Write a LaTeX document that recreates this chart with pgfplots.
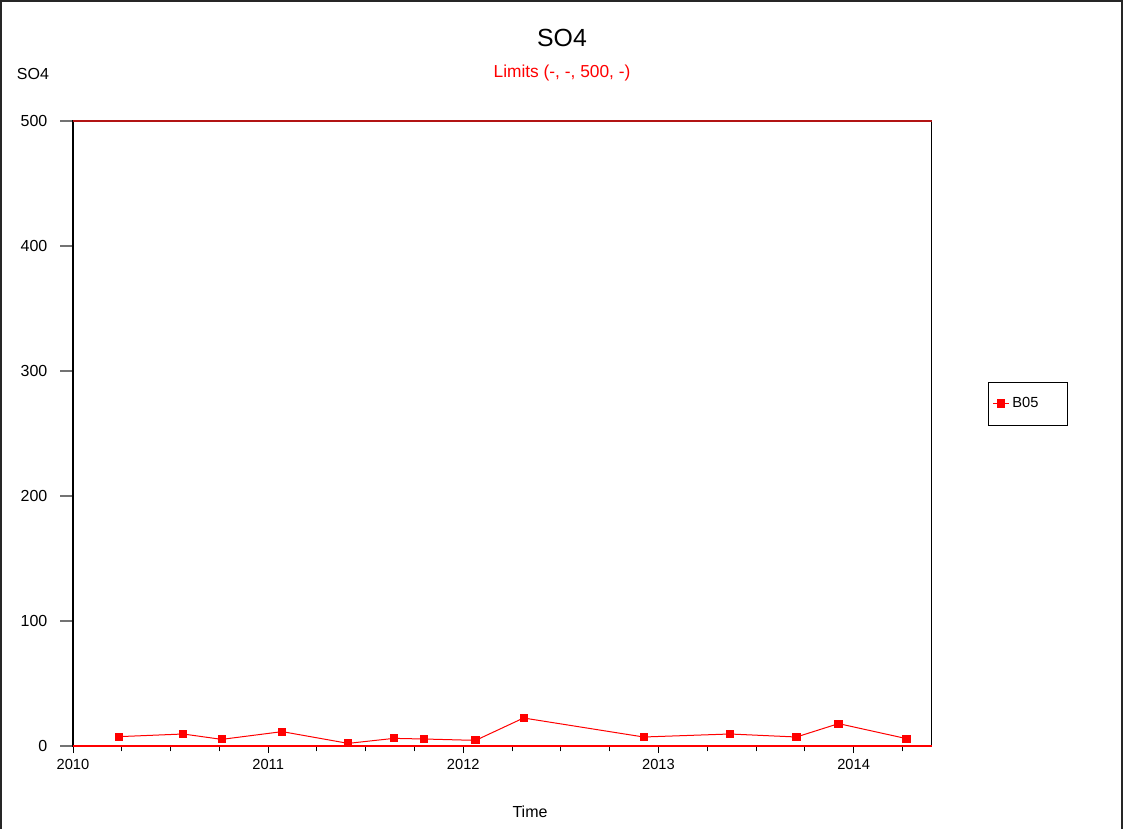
\documentclass[border=0pt]{standalone}
\usepackage{pgfplots}
\pgfplotsset{compat=1.18}
\usepackage{fontspec}
\setmainfont{Liberation Sans}
\definecolor{limred}{RGB}{178,20,20}
\definecolor{datared}{RGB}{255,0,0}
\pgfplotsset{
  myframe/.style={
    at={(0pt,0pt)}, anchor=south west,
    scale only axis, width=644pt, height=468.75pt,
    xmin=2010, xmax=2014.4, ymin=0, ymax=500,
    clip=false,
    tick align=outside,
    /pgf/number format/assume math mode=true,
    /pgf/number format/1000 sep={},
  }
}
\begin{document}
\begin{tikzpicture}
\begin{scope}[x=0.75pt,y=0.75pt]
\useasboundingbox (-73,-82) rectangle (1051,746);
\draw[line width=0.9pt,black!85] (-72,-95) -- (-72,745) -- (1049,745) -- (1049,-95);
\node[font=\fontsize{18.6}{22}\selectfont] at (489,708) {SO4};
\node[font=\fontsize{13}{16}\selectfont,text=datared] at (489,673) {Limits (-, -, 500, -)};
\node[font=\fontsize{12}{14}\selectfont] at (-40,672) {SO4};
\node[font=\fontsize{12}{14}\selectfont] at (457,-66) {Time};
\end{scope}
% y ticks (longer)
\begin{axis}[myframe,
  axis line style={draw=none},
  xtick=\empty,
  ytick={0,100,200,300,400,500},
  ytick pos=left,
  major tick length=9.75pt,
  y tick style={black!55, line width=0.8pt},
  yticklabel style={font=\fontsize{12}{14}\selectfont, xshift=-6pt},
]
\addplot[draw=none, forget plot] coordinates {(2010,0)};
\end{axis}
\begin{axis}[myframe,
  axis line style={black, line width=0.8pt},
  xtick={2010,2011,2012,2013,2014},
  minor xtick={2010.25,2010.5,2010.75,2011.25,2011.5,2011.75,2012.25,2012.5,2012.75,2013.25,2013.5,2013.75,2014.25},
  ytick=\empty,
  xtick pos=bottom,
  major tick length=5.25pt, minor tick length=4pt,
  x tick style={black, line width=0.7pt},
  xticklabel style={font=\fontsize{11}{13}\selectfont, yshift=-1pt},
  legend style={at={(1.112,0.548)}, anchor=center, draw=black, line width=0.6pt,
    font=\fontsize{11}{13}\selectfont, inner xsep=3pt, inner ysep=9.5pt},
  legend image code/.code={\draw[mark repeat=2,mark phase=2] plot coordinates {(0pt,0pt)(6pt,0pt)(12pt,0pt)};},
]
\addplot[datared, line width=1pt, forget plot] coordinates {(2010,0)(2014.4,0)};
\addplot[limred, line width=1pt, forget plot] coordinates {(2010,500)(2014.4,500)};
\addplot[datared, line width=0.75pt, mark=square*, mark size=2.7pt, mark options={solid}] coordinates {
(2010.237,7.5)
(2010.565,9.6)
(2010.762,5.3)
(2011.072,11.5)
(2011.410,2.1)
(2011.644,6.1)
(2011.798,5.6)
(2012.063,4.5)
(2012.309,22.4)
(2012.924,7.2)
(2013.366,9.6)
(2013.707,7.2)
(2013.923,17.9)
(2014.271,5.9)
};
\addlegendentry{\makebox[36pt][l]{B05}}
\end{axis}
\end{tikzpicture}
\end{document}
